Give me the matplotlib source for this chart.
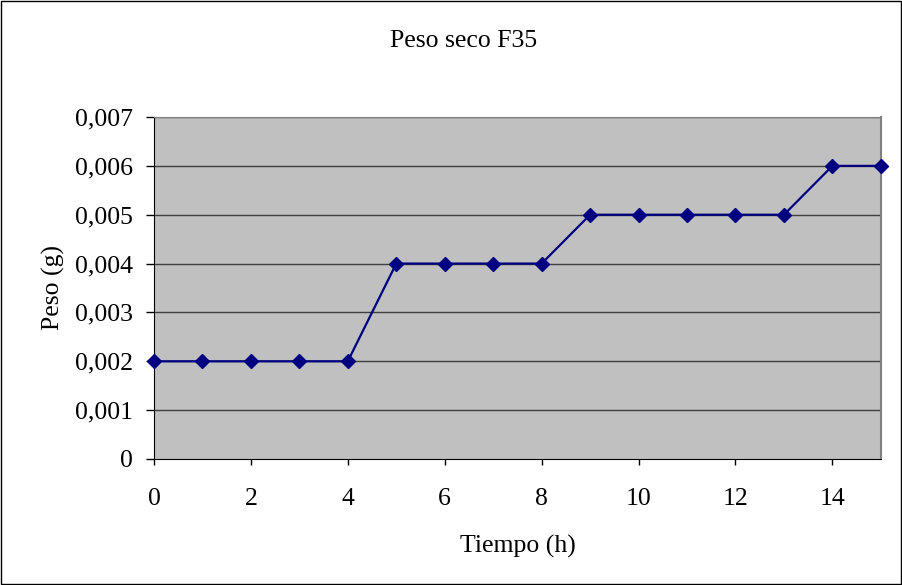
import matplotlib.pyplot as plt
from matplotlib.patches import Rectangle
from matplotlib.ticker import FuncFormatter

# dry weight over time
tiempo = list(range(16))
peso = [0.002, 0.002, 0.002, 0.002, 0.002,
        0.004, 0.004, 0.004, 0.004,
        0.005, 0.005, 0.005, 0.005, 0.005,
        0.006, 0.006]
x_ticks = [0, 2, 4, 6, 8, 10, 12, 14]
y_ticks = [0, 0.001, 0.002, 0.003, 0.004, 0.005, 0.006, 0.007]

plt.rcParams['font.family'] = ['Liberation Serif', 'DejaVu Serif']

fig = plt.figure(figsize=(9.03, 5.85), dpi=100)
ax = fig.add_axes([0.1705, 0.2154, 0.805, 0.5846])
ax.set_facecolor('#c0c0c0')

for t in y_ticks[1:]:
    ax.axhline(t, color='#404040', lw=1, zorder=1)

ax.plot(tiempo, peso, color='#000080', lw=1.6, marker='D', markersize=6.8,
        zorder=3, clip_on=False)

ax.set_xlim(0, 15)
ax.set_ylim(0, 0.007)
ax.set_xticks(x_ticks)
ax.set_yticks(y_ticks)


def coma(v, pos):
    if v == 0:
        return '0'
    return ('%.3f' % v).replace('.', ',')


ax.yaxis.set_major_formatter(FuncFormatter(coma))
ax.tick_params(axis='x', direction='out', length=4, width=1, labelsize=18.5, pad=17)
ax.tick_params(axis='y', direction='out', length=6, width=1, labelsize=18.5, pad=9)

ax.spines['left'].set_color('black')
ax.spines['bottom'].set_color('black')
ax.spines['top'].set_color('#808080')
ax.spines['right'].set_color('#808080')
ax.spines['right'].set_linewidth(1.5)

ax.set_xlabel('Tiempo (h)', fontsize=18.5, labelpad=18)
ax.set_ylabel('Peso (g)', fontsize=18.5, labelpad=7.5)
fig.text(0.5135, 0.930, 'Peso seco F35', ha='center', va='center', fontsize=18.5)

fig.add_artist(Rectangle((0.001, 0.002), 0.997, 0.996, transform=fig.transFigure,
                         fill=False, edgecolor='black', lw=1))

fig.savefig('out.png', dpi=100)
